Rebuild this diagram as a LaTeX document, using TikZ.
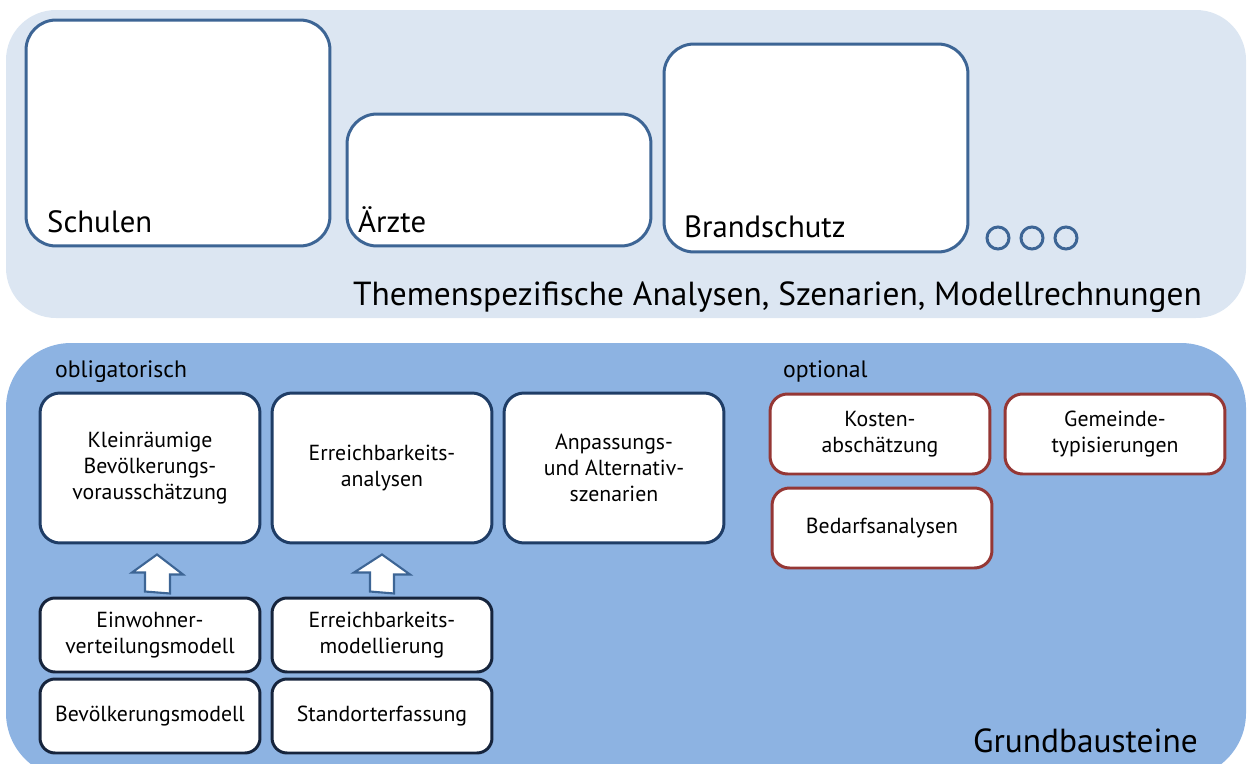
\documentclass[tikz,border=0pt]{standalone}
\usepackage{fontspec}
\setmainfont{PT Sans}
\usetikzlibrary{positioning,calc}

\definecolor{lightpanel}{HTML}{DCE6F2}
\definecolor{basepanel}{HTML}{8DB3E2}
\definecolor{topblue}{HTML}{3D6595}
\definecolor{navy}{HTML}{1F3D66}
\definecolor{darknavy}{HTML}{16243C}
\definecolor{darkred}{HTML}{953735}

\begin{document}
\begin{tikzpicture}[x=0.02cm,y=-0.02cm]
            \tikzset{
                theme/.style={
                    draw=topblue,
                    line width=1.7pt,
                    fill=white,
                    rounded corners=0.6cm,
                    minimum width=6.08cm
                }
            }
            \tikzset{
                brick/.style={
                    draw=navy,
                    line width=1.7pt,
                    fill=white,
                    rounded corners=0.4cm,
                    minimum width=4.4cm,
                    minimum height=3cm,
                    align=center,
                    font=\fontsize{12.4}{14.8}\selectfont
                }
            }
            \tikzset{
                base/.style={
                    brick,
                    draw=darknavy,
                    rounded corners=0.3cm,
                    minimum height=1.48cm
                }
            }
            \tikzset{
                extra/.style={
                    brick,
                    draw=darkred,
                    rounded corners=0.35cm,
                    minimum height=1.6cm
                }
            }
            \tikzset{
                upflow/.style={
                    draw=topblue,
                    line width=1.2pt,
                    fill=white,
                    line join=miter
                }
            }

            \clip (0,0) rectangle (1248,764);
            \fill[lightpanel, rounded corners=1cm] (6,10) rectangle (1246,318);
            \fill[basepanel, rounded corners=1.3cm] (6,343) rectangle (1246,778);

            % themenspezifische Analysen
            \node[theme, minimum height=4.52cm] (S) at (178,133) {};
            \node[theme, minimum height=2.64cm] (AE) at (499,180) {};
            \node[theme, minimum height=4.16cm] (BS) at (816,148) {};
            \node[anchor=base west, font=\fontsize{17.5}{20}\selectfont] (St) at (41,232) {Schulen};
            \node[anchor=base west, font=\fontsize{17.5}{20}\selectfont] (AEt) at (352,232) {Ärzte};
            \node[anchor=base west, font=\fontsize{17.5}{20}\selectfont] (BSt) at (678,237) {Brandschutz};
            \foreach \cx [count=\i] in {998,1032,1066}
                \node[circle, draw=topblue, line width=1.7pt, minimum size=0.44cm, inner sep=0pt] (dot\i) at (\cx,238) {};
            \node[anchor=base east, font=\fontsize{19}{22}\selectfont] (title) at (1208,305) {Themenspezifische Analysen, Szenarien, Modellrechnungen};

            % Grundbausteine
            \node[anchor=base west, font=\fontsize{13.5}{16}\selectfont] (obl) at (49,377) {obligatorisch};
            \node[anchor=base west, font=\fontsize{13.5}{16}\selectfont] (opt) at (777,377) {optional};

            \node[brick] (K1) at (150,468) {Kleinräumige\\Bevölkerungs-\\vorausschätzung};
            \node[brick] (K2) at (382,468) {Erreichbarkeits-\\analysen};
            \node[brick] (K3) at (614,468) {Anpassungs-\\und Alternativ-\\szenarien};

            \node[base] (E1) at (150,635) {Einwohner-\\verteilungsmodell};
            \node[base] (B1) at (150,716) {Bevölkerungsmodell};
            \node[base] (E2) at (382,635) {Erreichbarkeits-\\modellierung};
            \node[base] (B2) at (382,716) {Standorterfassung};

            \node[extra] (KO) at (880,434) {Kosten-\\abschätzung};
            \node[extra] (GE) at (1115,434) {Gemeinde-\\typisierungen};
            \node[extra] (BE) at (882,528) {Bedarfsanalysen};

            \draw[upflow] ($(E1.north)+(-5,-5)$) -- ++(0,-19) -- ++(-13,0) -- ($(K1.south)+(7,10)$)
                -- ++(26,20) -- ++(-13,0) -- ++(0,19) -- cycle;
            \draw[upflow] ($(E2.north)+(-12,-5)$) -- ++(0,-19) -- ++(-16,0) -- ($(K2.south)+(0,10)$)
                -- ++(28,20) -- ++(-16,0) -- ++(0,19) -- cycle;

            \node[anchor=base east, font=\fontsize{19}{22}\selectfont] (grund) at (1204,752) {Grundbausteine};
        \end{tikzpicture}
\end{document}
